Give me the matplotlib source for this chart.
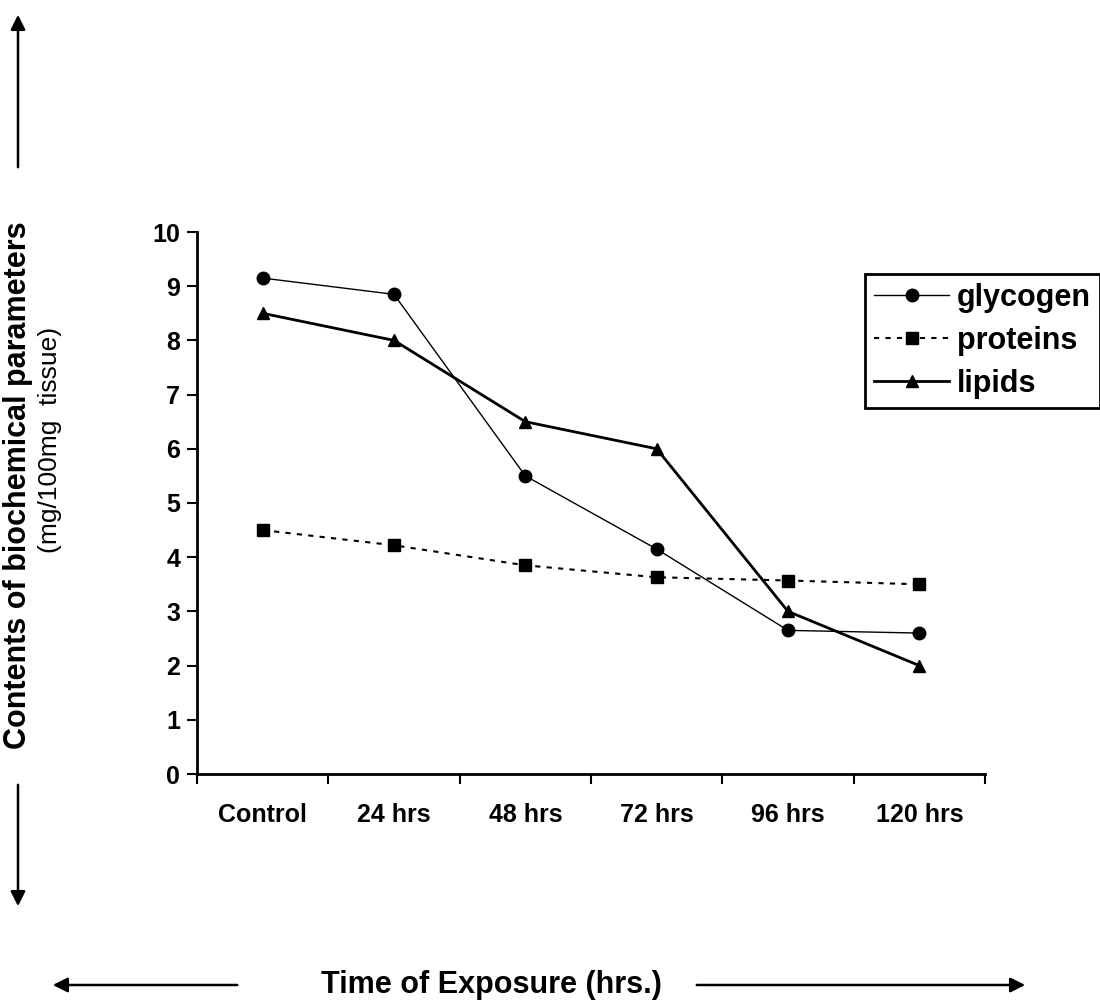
import matplotlib
matplotlib.use("Agg")
import matplotlib.pyplot as plt
from matplotlib.patches import FancyArrowPatch

plt.rcParams['font.family'] = ['Liberation Sans', 'DejaVu Sans']

categories = ['Control', '24 hrs', '48 hrs', '72 hrs', '96 hrs', '120 hrs']
glycogen = [9.15, 8.85, 5.5, 4.15, 2.65, 2.6]
proteins = [4.5, 4.22, 3.85, 3.63, 3.57, 3.5]
lipids = [8.5, 8.0, 6.5, 6.0, 3.0, 2.0]

W, H = 1100, 1001
fig = plt.figure(figsize=(W / 100, H / 100), dpi=100)
ax = fig.add_axes([197 / W, 1 - 774 / H, (985 - 197) / W, (774 - 232) / H])

x = list(range(len(categories)))
ax.plot(x, glycogen, color='black', lw=1.0, marker='o', ms=9, label='glycogen')
ax.plot(x, proteins, color='black', lw=1.5, ls=(0, (2.5, 3)), marker='s', ms=8, label='proteins')
ax.plot(x, lipids, color='black', lw=2.0, marker='^', ms=9, label='lipids')

ax.set_xlim(-0.5, 5.5)
ax.set_ylim(0, 10)
ax.set_yticks(range(0, 11))
ax.set_xticks(x)
ax.set_xticklabels(categories, fontsize=18, fontweight='bold')
ax.set_xticks([i - 0.5 for i in range(len(categories) + 1)], minor=True)
ax.tick_params(axis='x', which='major', length=0, pad=21)
ax.tick_params(axis='x', which='minor', length=7, width=1.5, direction='out')
ax.tick_params(axis='y', length=7, width=1.5, direction='out', labelsize=18, pad=5)
for lab in ax.get_yticklabels():
    lab.set_fontweight('bold')
for s in ['top', 'right']:
    ax.spines[s].set_visible(False)
for s in ['left', 'bottom']:
    ax.spines[s].set_linewidth(2)

leg = ax.legend(loc='upper left', bbox_to_anchor=(865 / W, 1 - 274 / H),
                bbox_transform=fig.transFigure,
                prop={'weight': 'bold', 'size': 22}, frameon=True, fancybox=False,
                handlelength=2.45, handletextpad=0.26, borderpad=0.3, labelspacing=0.42,
                borderaxespad=0)
leg.get_frame().set_edgecolor('black')
leg.get_frame().set_linewidth(2)
leg.get_frame().set_alpha(1)

# vertical axis label with arrows
fig.text(18 / W, 1 - 485 / H, 'Contents of biochemical parameters', rotation=90,
         ha='center', va='center', fontsize=22, fontweight='bold')
fig.text(50 / W, 1 - 440 / H, '(mg/100mg  tissue)', rotation=90,
         ha='center', va='center', fontsize=19)
arrow = dict(arrowstyle='-|>', color='black', lw=1.8, mutation_scale=22)
fig.add_artist(FancyArrowPatch((18 / W, 1 - 170 / H), (18 / W, 1 - 12 / H),
               transform=fig.transFigure, **arrow))
fig.add_artist(FancyArrowPatch((18 / W, 1 - 782 / H), (18 / W, 1 - 909 / H),
               transform=fig.transFigure, **arrow))

# horizontal axis label with arrows
fig.text(491 / W, 1 - 985 / H, 'Time of Exposure (hrs.)', ha='center', va='center',
         fontsize=22, fontweight='bold')
fig.add_artist(FancyArrowPatch((240 / W, 1 - 985 / H), (50 / W, 1 - 985 / H),
               transform=fig.transFigure, **arrow))
fig.add_artist(FancyArrowPatch((694 / W, 1 - 985 / H), (1028 / W, 1 - 985 / H),
               transform=fig.transFigure, **arrow))

fig.savefig('out.png', dpi=100)
